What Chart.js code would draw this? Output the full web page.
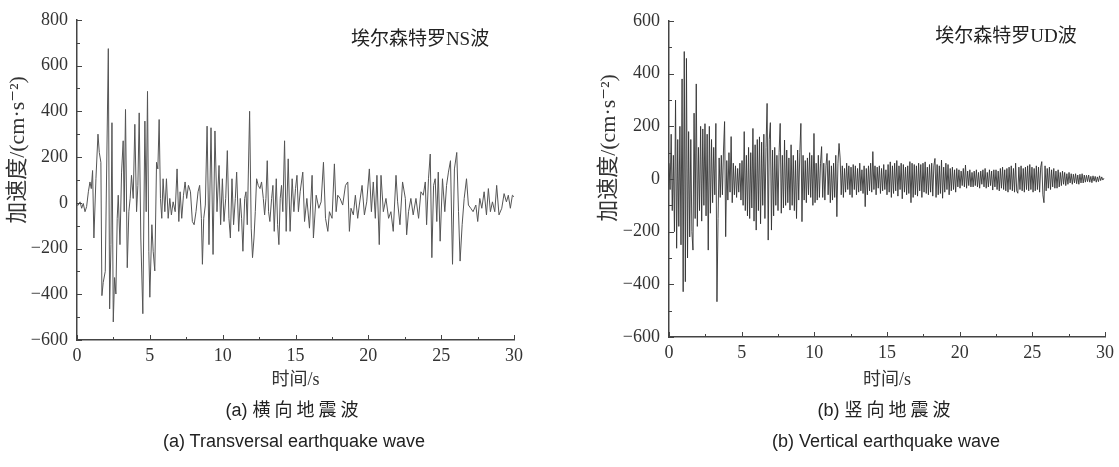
<!DOCTYPE html>
<html><head><meta charset="utf-8">
<script src="https://cdn.jsdelivr.net/npm/chart.js@4/dist/chart.umd.min.js"></script>
<style>
html,body{margin:0;padding:0;background:#fff;width:1119px;height:467px;overflow:hidden;position:relative}
canvas{position:absolute;top:0}
#c1{left:0}
#c2{left:560px}
.cap{position:absolute;font-family:'Liberation Sans',Arial,'Noto Sans CJK SC',sans-serif;font-size:18px;line-height:22px;color:#222;white-space:nowrap;transform:translateX(-50%)}
.cj{letter-spacing:4px}
</style>
</head><body>
<canvas id="c1" width="560" height="400"></canvas>
<canvas id="c2" width="559" height="400"></canvas>
<div class="cap" style="left:294px;top:399px">(a) <span class="cj">横向地震波</span></div>
<div class="cap" style="left:294px;top:430px">(a) Transversal earthquake wave</div>
<div class="cap" style="left:886px;top:399px">(b) <span class="cj">竖向地震波</span></div>
<div class="cap" style="left:886px;top:430px">(b) Vertical earthquake wave</div>
<script>
// ---- Data ----
const leftTitle = '埃尔森特罗NS波';
const rightTitle = '埃尔森特罗UD波';
const yAxisTitle = '加速度/(cm·s⁻²)';
const xAxisTitle = '时间/s';
const xTickValues = [0, 5, 10, 15, 20, 25, 30];
const leftYTicks = [-600, -400, -200, 0, 200, 400, 600, 800];
const rightYTicks = [-600, -400, -200, 0, 200, 400, 600];

// NS wave: time (s) and acceleration (cm/s^2)
const nsTimes = [
 0,0.09,0.21,0.32,0.43,0.55,0.66,0.78,0.89,0.98,1.07,1.16,1.30,1.44,1.53,1.64,1.71,1.80,1.94,
 2.15,2.24,2.33,2.40,2.49,2.58,2.67,2.76,2.83,2.95,
 3.06,3.17,3.24,3.33,3.45,3.56,3.65,3.74,3.86,3.97,
 4.09,4.18,4.27,4.38,4.52,4.66,4.75,4.84,4.93,5.00,
 5.14,5.23,5.34,5.46,5.55,5.64,5.73,5.82,5.91,6.03,
 6.14,6.26,6.37,6.48,6.60,6.74,6.87,6.99,
 7.08,7.19,7.31,7.42,7.53,7.65,7.79,7.92,
 8.04,8.17,8.31,8.42,8.54,8.61,8.70,8.81,8.93,
 9.06,9.20,9.34,9.47,9.61,9.75,9.86,9.98,
 10.09,10.21,10.32,10.43,10.53,10.64,10.75,10.87,10.96,
 11.10,11.21,11.30,11.39,11.51,11.60,11.69,11.85,11.96,
 12.05,12.15,12.24,12.33,12.44,12.56,12.67,12.79,12.88,12.97,
 13.06,13.15,13.24,13.36,13.45,13.54,13.68,13.77,13.86,13.95,
 14.04,14.13,14.25,14.36,14.50,14.63,14.77,14.89,15.00,
 15.10,15.20,15.32,15.50,15.62,15.78,15.96,
 16.14,16.23,16.42,16.60,16.76,16.92,
 17.06,17.22,17.33,17.51,17.67,17.79,17.90,
 18.06,18.24,18.43,18.59,18.70,18.81,18.97,
 19.11,19.27,19.38,19.57,19.73,19.89,
 20.07,20.21,20.34,20.48,20.59,20.75,20.87,
 21.03,21.21,21.39,21.55,21.71,21.90,
 22.01,22.17,22.35,22.54,22.63,22.76,22.92,
 23.08,23.27,23.45,23.61,23.77,23.91,
 24.00,24.13,24.25,24.36,24.48,24.59,24.70,24.80,24.93,
 25.09,25.25,25.37,25.50,25.64,25.78,25.91,
 26.07,26.19,26.30,26.44,26.58,26.74,26.87,
 27.03,27.19,27.38,27.51,27.65,27.79,27.95,
 28.11,28.24,28.38,28.52,28.68,28.81,28.97,
 29.16,29.32,29.48,29.61,29.75,29.89,30.0
];
const nsAccel = [
 -10,-10,4,-24,-3,-39,-17,48,91,62,141,-154,105,300,220,177,-406,-348,-300,
 674,-464,-183,350,-521,-327,-399,-68,33,-183,
 134,271,-39,408,-284,-39,19,120,19,343,
 -39,76,393,-154,-485,357,-39,487,-212,-413,
 -96,-212,-298,177,148,364,19,-68,105,-39,
 105,-68,19,-53,4,-39,148,-82,
 48,-68,33,91,19,76,48,-82,
 -96,-39,48,76,-68,-269,-68,-10,335,
 -183,328,-226,314,-39,163,-96,105,
 -82,19,228,-68,-154,105,-96,19,134,
 -125,19,-68,-212,19,48,-96,400,-111,
 -240,-154,-39,105,76,62,91,19,-53,19,
 184,-39,-82,19,76,-125,105,-96,-183,19,
 76,-39,271,-125,192,-125,105,-39,62,
 120,-39,48,134,-82,19,-111,
 120,-154,33,-24,4,177,
 -68,-125,-39,-68,170,-39,33,
 19,-10,76,91,-125,-24,-53,
 33,-68,-10,76,-53,4,
 148,-39,91,-68,120,-183,120,
 -39,19,-68,-39,-125,120,
 4,-96,91,19,-140,-39,19,
 -53,19,-68,48,33,91,
 -96,105,213,-240,76,105,-82,134,-168,
 105,-39,76,134,184,-269,148,
 220,-39,-255,-96,19,105,-10,
 -24,-39,-10,-82,19,-24,48,
 -53,62,-39,4,-39,76,-53,
 -24,40,4,33,-24,33,26
];

// UD wave: samples every udStep seconds (cm/s^2)
const udStep = 0.075;
const udAccel = [
 60,-40,170,-120,90,-200,300,-263,150,-180,200,-250,380,-428,484,-390,458,-300,180,-220,
 150,-200,-270,250,-150,361,-180,120,-120,200,-160,190,-100,210,-140,170,-270,200,-130,150,
 -90,120,-60,211,-466,-150,80,-70,90,-60,110,218,-219,70,-80,100,-50,161,-90,60,
 -60,50,-70,40,-50,60,-80,70,-100,180,-120,90,-140,120,-150,100,-110,192,-160,130,
 -194,150,-120,160,-170,140,-100,170,-150,120,287,-232,150,214,-194,110,-140,120,-100,90,
 -120,100,211,-130,90,-110,148,-100,110,-90,80,-118,130,-100,90,-120,70,-150,110,-80,
 100,211,-162,90,-80,70,-90,80,-60,100,-70,90,-100,173,-90,60,-80,90,-70,60,
 123,-70,60,-80,50,97,-60,70,-90,50,-80,60,-70,90,-143,60,135,80,-60,50,
 -70,40,-50,60,-40,50,-60,45,-70,55,-40,50,-60,40,-50,60,-45,35,-55,50,
 -105,40,-60,50,-45,60,-50,104,-40,50,-60,45,-35,50,-55,40,-45,55,-40,35,
 -60,55,-50,65,-70,50,-55,60,-45,70,-65,50,-40,60,-75,55,-50,45,-60,50,
 -55,66,-90,60,-70,55,-60,50,-65,60,-45,55,-70,60,-50,65,-55,45,-60,55,
 -50,60,-65,50,78,-70,55,-60,50,-55,72,-73,45,-50,60,-40,55,-60,40,-45,
 45,-40,35,-50,40,-30,35,-35,30,-25,40,-30,53,-35,30,-25,35,-30,25,-30,
 30,-25,35,-30,25,-35,30,-20,35,-30,40,-35,25,-30,35,-25,30,-42,35,-30,
 35,-40,30,-45,40,-35,45,-40,35,-45,40,-50,45,-40,50,-45,40,-50,60,-45,
 -54,45,-40,50,-45,40,-50,45,-40,50,-45,55,-40,45,-50,40,-45,50,-40,45,
 -50,45,66,-60,-90,50,-45,40,-35,45,-40,35,-30,40,-35,30,-35,35,-30,25,
 -25,30,-20,25,-25,20,-20,25,-15,20,-20,18,-15,20,-18,15,-20,18,-15,20,
 -15,15,-12,14,-10,15,-12,10,-14,12,-8,10,-12,8,-10,12,-6,8,-4,3
];

// ---- Rendering ----
const SERIF = "'Liberation Serif','Times New Roman','DejaVu Serif','Noto Sans CJK SC',serif";
const AXIS = '#444';

const decorPlugin = {
  id: 'decor',
  afterDraw(chart, args, o) {
    const {ctx, chartArea: a, scales: {x, y}} = chart;
    ctx.save();
    ctx.strokeStyle = AXIS; ctx.lineWidth = 1;
    const yT = y.ticks.map(t => t.value);
    for (let i = 0; i < yT.length; i++) {
      const vals = [yT[i]];
      if (i < yT.length - 1) vals.push((yT[i] + yT[i + 1]) / 2);
      vals.forEach((v, k) => {
        const py = Math.round(y.getPixelForValue(v)) + 0.5;
        ctx.beginPath(); ctx.moveTo(a.left, py); ctx.lineTo(a.left + (k ? 3 : 5), py); ctx.stroke();
      });
    }
    const xT = x.ticks.map(t => t.value);
    for (let i = 0; i < xT.length; i++) {
      const vals = [xT[i]];
      if (i < xT.length - 1) vals.push((xT[i] + xT[i + 1]) / 2);
      vals.forEach((v, k) => {
        const px = Math.round(x.getPixelForValue(v)) + 0.5;
        ctx.beginPath(); ctx.moveTo(px, a.bottom); ctx.lineTo(px, a.bottom - (k ? 3 : 5)); ctx.stroke();
      });
    }
    // in-plot label
    ctx.fillStyle = '#222';
    ctx.font = "19px " + SERIF;
    ctx.textAlign = 'center'; ctx.textBaseline = 'middle';
    ctx.fillText(o.text, a.left + a.width * o.fx, a.top + a.height * o.fy);
    // y-axis title (rotated)
    ctx.save();
    ctx.translate(o.ytx, o.yty);
    ctx.rotate(-Math.PI / 2);
    ctx.fillStyle = '#333';
    ctx.font = "22px " + SERIF;
    ctx.fillText(yAxisTitle, 0, 0);
    ctx.restore();
    ctx.restore();
  }
};

function makeChart(id, points, yTicks, cfg) {
  return new Chart(document.getElementById(id), {
    type: 'line',
    data: { datasets: [{ data: points, borderColor: cfg.color, borderWidth: cfg.lw,
      pointRadius: 0, tension: 0, fill: false }] },
    options: {
      responsive: false, animation: false, events: [],
      layout: { padding: cfg.pad },
      plugins: { legend: { display: false }, tooltip: { enabled: false },
        decor: { text: cfg.title, fx: cfg.fx, fy: cfg.fy, ytx: cfg.ytx, yty: cfg.yty } },
      scales: {
        x: {
          type: 'linear', min: 0, max: 30,
          afterBuildTicks: s => { s.ticks = xTickValues.map(v => ({ value: v })); },
          afterFit: s => { s.height = 60; },
          grid: { display: false, drawTicks: false },
          border: { display: true, color: AXIS, width: 1.5 },
          ticks: { padding: 5, color: '#333', maxRotation: 0, autoSkip: false,
            font: { family: SERIF, size: 18 } },
          title: { display: true, text: xAxisTitle, color: '#333',
            font: { family: SERIF, size: 18 }, padding: { top: 0, bottom: cfg.xtPad } }
        },
        y: {
          min: yTicks[0], max: yTicks[yTicks.length - 1],
          afterBuildTicks: s => { s.ticks = yTicks.map(v => ({ value: v })); },
          afterFit: s => { s.width = cfg.yw; },
          grid: { display: false, drawTicks: false },
          border: { display: true, color: AXIS, width: 1.5 },
          ticks: { padding: 9, color: '#333', autoSkip: false,
            font: { family: SERIF, size: 18 },
            callback: v => v < 0 ? '\u2212' + Math.abs(v) : String(v) }
        }
      }
    },
    plugins: [decorPlugin]
  });
}

const nsPoints = nsTimes.map((t, i) => ({ x: t, y: nsAccel[i] }));
const udPoints = udAccel.map((v, i) => ({ x: +(i * udStep).toFixed(3), y: v }));

makeChart('c1', nsPoints, leftYTicks, {
  color: '#555', lw: 1, yw: 77, pad: { left: 0, right: 46, top: 16, bottom: 0 },
  xtPad: 9, title: leftTitle, fx: 0.785, fy: 0.062, ytx: 18, yty: 150 });
makeChart('c2', udPoints, rightYTicks, {
  color: '#333', lw: 0.9, yw: 78, pad: { left: 31, right: 14, top: 21, bottom: 3 },
  xtPad: 6, title: rightTitle, fx: 0.773, fy: 0.05, ytx: 49, yty: 148 });
</script>
</body></html>
